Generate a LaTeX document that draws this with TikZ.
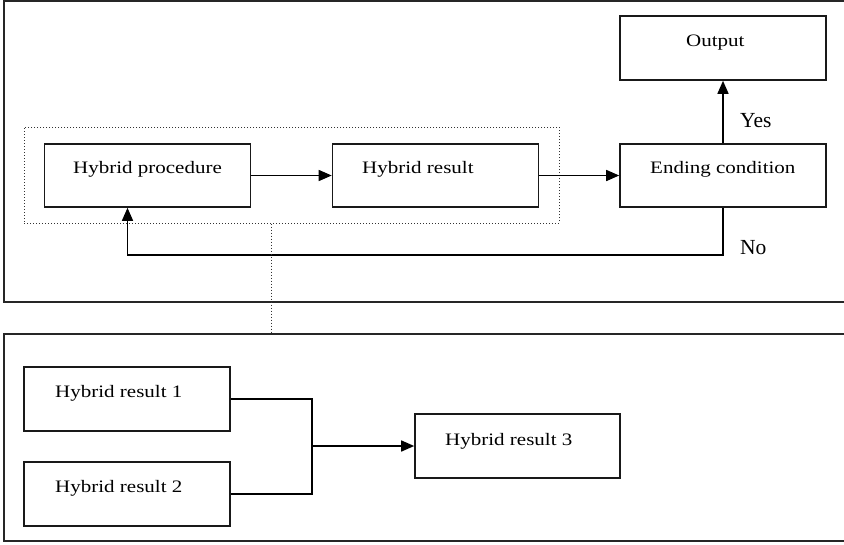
\documentclass[tikz,border=0pt]{standalone}
\usepackage{fontspec}
\setmainfont{Liberation Serif}
\newfontfamily\boxfont[FakeStretch=1.2]{Liberation Serif}
\usetikzlibrary{arrows.meta}
\begin{document}
\begin{tikzpicture}[x=1pt,y=-1pt,
  box/.style={draw=black!90,line width=1.6pt,minimum width=206pt,minimum height=63pt,inner sep=0pt},
  frame/.style={draw=black!85,line width=2.2pt},
  txt/.style={inner sep=0pt,anchor=base west,font=\boxfont\fontsize{17.5}{20}\selectfont},
  lbl/.style={inner sep=0pt,anchor=base west,font=\fontsize{21.5}{24}\selectfont},
  conn/.style={draw=black,line width=1.5pt},
  arr/.style={conn,-{Triangle[length=13pt,width=11pt]}},
  dots/.style={draw=black!80,line width=1pt,dotted}]
\useasboundingbox (0,0) rectangle (844,544);
\path[fill=white] (0,0) rectangle (844,544);
% outer frames
\draw[frame] (4,1) rectangle (850,302);
\draw[frame] (4,334) rectangle (850,541);
\coordinate (bottomtop) at (271,334);
% dotted group
\node[dots,minimum width=535pt,minimum height=96pt,inner sep=0pt] (group) at (291.5,175) {};
% boxes
\node[box] (hp) at (147.5,175.5) {};
\node[box] (hr) at (435.5,175.5) {};
\node[box] (ec) at (723,175.5) {};
\node[box,minimum height=64pt] (out) at (723,48) {};
\node[box,minimum height=64pt] (hr1) at (127,399) {};
\node[box,minimum height=64pt] (hr2) at (127,494) {};
\node[box,minimum width=205pt,minimum height=64pt] (hr3) at (517.5,446) {};
% texts
\node[txt,anchor=base] (thp) at (147.5,173) {Hybrid procedure};
\node[txt] (thr) at (362,173) {Hybrid result};
\node[txt] (tec) at (650,173) {Ending condition};
\node[txt] (tout) at (686,46) {Output};
\node[txt] (thr1) at (55,397) {Hybrid result 1};
\node[txt] (thr2) at (55,492) {Hybrid result 2};
\node[txt] (thr3) at (445,445) {Hybrid result 3};
\node[lbl] (yes) at (740,127) {Yes};
\node[lbl] (no) at (740,254) {No};
% connectors
\draw[arr] (hp.east) -- (hr.west);
\draw[arr] (hr.east) -- (ec.west);
\draw[arr] (ec.north) -- (out.south);
\coordinate (fb) at (127.5,255);
\draw[arr] (ec.south) |- (fb) -- (fb |- hp.south);
\draw[dots] (group.south -| bottomtop) -- (bottomtop);
\coordinate (join) at (312,446);
\draw[conn] (hr1.east) -| (join) |- (hr2.east);
\draw[arr] (join) -- (hr3.west);
\end{tikzpicture}
\end{document}
